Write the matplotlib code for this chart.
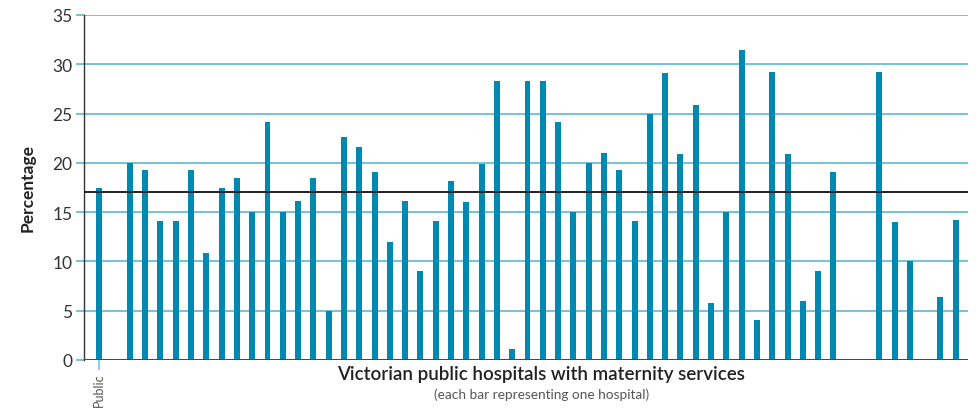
import numpy as np
import matplotlib.pyplot as plt

# Percentage per hospital; None marks a hospital with no bar shown
public_avg = 17.5
state_line = 17.0
hospital_values = [
    None,
    20.0, 19.3, 14.1, 14.1, 19.3, 10.9, 17.5, 18.5, 15.0, 24.1,
    15.0, 16.1, 18.5, 5.0, 22.6, 21.6, 19.1, 12.0, 16.1, 9.0,
    14.1, 18.2, 16.0, 19.9, 28.3, 1.1, 28.3, 28.3, 24.1, 15.0,
    20.0, 21.0, 19.3, 14.1, 25.0, 29.1, 20.9, 25.9, 5.8, 15.0,
    31.5, 4.1, 29.2, 20.9, 6.0, 9.0, 19.1, None, None, 29.2,
    14.0, 10.0, None, 6.4, 14.2,
]
yticks = [0, 5, 10, 15, 20, 25, 30, 35]

bar_color = '#0089b0'
grid_color = '#4fb3cc'

plt.rcParams['font.family'] = ['Lato', 'DejaVu Sans']

fig = plt.figure(figsize=(9.79, 4.10), dpi=100)
ax = fig.add_axes([83.5 / 979, 49 / 410, (968 - 83.5) / 979, 345 / 410])

values = [public_avg] + hospital_values
xs = [i for i, v in enumerate(values) if v is not None]
hs = [v for v in values if v is not None]
ax.bar(xs, hs, width=0.39, color=bar_color, zorder=3)

ax.set_xlim(-1.03, 56.8)
ax.set_ylim(0, 35)
ax.set_yticks(yticks)
for t in yticks[1:]:
    ax.axhline(t, color=grid_color, lw=1.1, zorder=1)
ax.axhline(state_line, color='#222222', lw=1.4, zorder=4)
ax.axhline(0, color='#444444', lw=1.4, zorder=5)

for s in ['top', 'right', 'bottom']:
    ax.spines[s].set_visible(False)
ax.spines['left'].set_color('#333333')
ax.spines['left'].set_linewidth(1.0)
ax.tick_params(axis='y', length=6, width=1.1, color=grid_color,
               labelsize=12.5, labelcolor='#333333', pad=2)
ax.set_xticks([0])
ax.set_xticklabels(['Public'], rotation=90, fontsize=9, color='#555555')
ax.tick_params(axis='x', length=7, width=1.5, color='#8fd0e0', pad=2)

ax.set_ylabel('Percentage', fontsize=12.5, fontweight='bold', color='#222222', labelpad=12)
fig.text(0.553, 44 / 410, 'Victorian public hospitals with maternity services',
         ha='center', va='top', fontsize=13.5, fontweight='semibold', color='#222222')
fig.text(0.553, 22 / 410, '(each bar representing one hospital)',
         ha='center', va='top', fontsize=9.8, color='#555555')

fig.savefig('out.png', dpi=100)
